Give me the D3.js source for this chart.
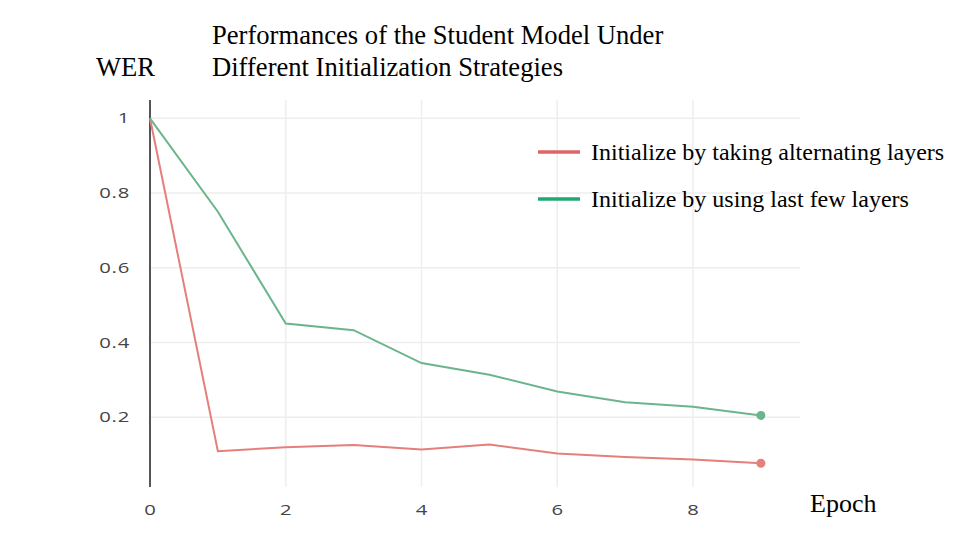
<!DOCTYPE html>
<html>
<head>
<meta charset="utf-8">
<script src="https://cdn.jsdelivr.net/npm/d3@7"></script>
<style>
	body { margin: 0; background: #fff; }
	.tick text { font-family: "Open Sans", sans-serif; fill: #444; }
	.serif { font-family: "Liberation Serif", "Times New Roman", serif; fill: #000; }
</style>
</head>
<body>
<div id="chart"></div>
<script>
// epochs and WER values
const epochs = [0, 1, 2, 3, 4, 5, 6, 7, 8, 9]
const alternating = [1, 0.109, 0.120, 0.126, 0.114, 0.127, 0.103, 0.094, 0.087, 0.077]
const lastFew = [1, 0.750, 0.451, 0.433, 0.345, 0.314, 0.269, 0.240, 0.228, 0.205]
const xTicks = [0, 2, 4, 6, 8]
const yTicks = [0.2, 0.4, 0.6, 0.8, 1]
const seriesNames = ['Initialize by taking alternating layers', 'Initialize by using last few layers']
const lineColors = ['#e57f7b', '#6bb58c']
const legendColors = ['#e06464', '#1fa774']

const width = 960
const height = 540

let svg = d3.select('#chart')
	.append('svg')
	.attr('width', width)
	.attr('height', height)

// plot area
let x = d3.scaleLinear().domain([0, 8]).range([150, 693])
let y = d3.scaleLinear().domain([0.2, 1]).range([417.3, 118.3])
let plotTop = 100, plotBottom = 487, plotRight = 800

// grid
svg.append('g')
	.selectAll('line')
	.data(yTicks)
	.enter().append('line')
	.attr('x1', x(0)).attr('x2', plotRight)
	.attr('y1', d => y(d)).attr('y2', d => y(d))
	.attr('stroke', '#eee').attr('stroke-width', 1.5)

svg.append('g')
	.selectAll('line')
	.data(xTicks.slice(1))
	.enter().append('line')
	.attr('x1', d => x(d)).attr('x2', d => x(d))
	.attr('y1', plotTop).attr('y2', plotBottom)
	.attr('stroke', '#eee').attr('stroke-width', 1.5)

// axes (labels only, no tick marks); the tick text is stretched sideways like the original
let xAxis = svg.append('g')
	.attr('transform', `translate(0,${plotBottom})`)
	.call(d3.axisBottom(x).tickValues(xTicks).tickSize(0).tickPadding(18))
xAxis.select('.domain').remove()
xAxis.selectAll('text')
	.attr('font-size', 14)
	.attr('letter-spacing', 0.5)
	.attr('transform', 'scale(1.45,1)')

let yAxis = svg.append('g')
	.attr('transform', `translate(${x(0) - 20},0)`)
	.call(d3.axisLeft(y).tickValues(yTicks).tickSize(0).tickPadding(0).tickFormat(d3.format('')))
yAxis.select('.domain').remove()
yAxis.selectAll('text')
	.attr('font-size', 14)
	.attr('letter-spacing', 0.5)
	.attr('transform', 'scale(1.45,1)')

svg.append('line')
	.attr('x1', x(0)).attr('x2', x(0))
	.attr('y1', plotTop).attr('y2', plotBottom)
	.attr('stroke', '#555').attr('stroke-width', 2)

// lines
let line = d3.line()
	.x((d, i) => x(epochs[i]))
	.y(d => y(d))

let series = [alternating, lastFew]
series.forEach((s, k) => {
	svg.append('path')
		.attr('d', line(s))
		.attr('fill', 'none')
		.attr('stroke', lineColors[k])
		.attr('stroke-width', 2)
	svg.append('circle')
		.attr('cx', x(epochs[epochs.length - 1]))
		.attr('cy', y(s[s.length - 1]))
		.attr('r', 4.5)
		.attr('fill', lineColors[k])
})

// legend
let legend = svg.append('g')
	.selectAll('g')
	.data(seriesNames)
	.enter().append('g')
	.attr('transform', (d, i) => `translate(538,${152 + i * 47})`)
legend.append('line')
	.attr('x1', 0).attr('x2', 42)
	.attr('stroke', (d, i) => legendColors[i])
	.attr('stroke-width', 3.5)
legend.append('text')
	.attr('class', 'serif')
	.attr('x', 53).attr('y', 8)
	.attr('font-size', 24)
	.text(d => d)

// titles
let title = svg.append('text')
	.attr('class', 'serif')
	.attr('x', 212).attr('y', 44)
	.attr('font-size', 26.6)
title.append('tspan').attr('x', 212).text('Performances of the Student Model Under')
title.append('tspan').attr('x', 212).attr('dy', 32).text('Different Initialization Strategies')

svg.append('text')
	.attr('class', 'serif')
	.attr('x', 96).attr('y', 76)
	.attr('font-size', 26.6)
	.text('WER')

svg.append('text')
	.attr('class', 'serif')
	.attr('x', 810).attr('y', 512)
	.attr('font-size', 26)
	.text('Epoch')
</script>
</body>
</html>
